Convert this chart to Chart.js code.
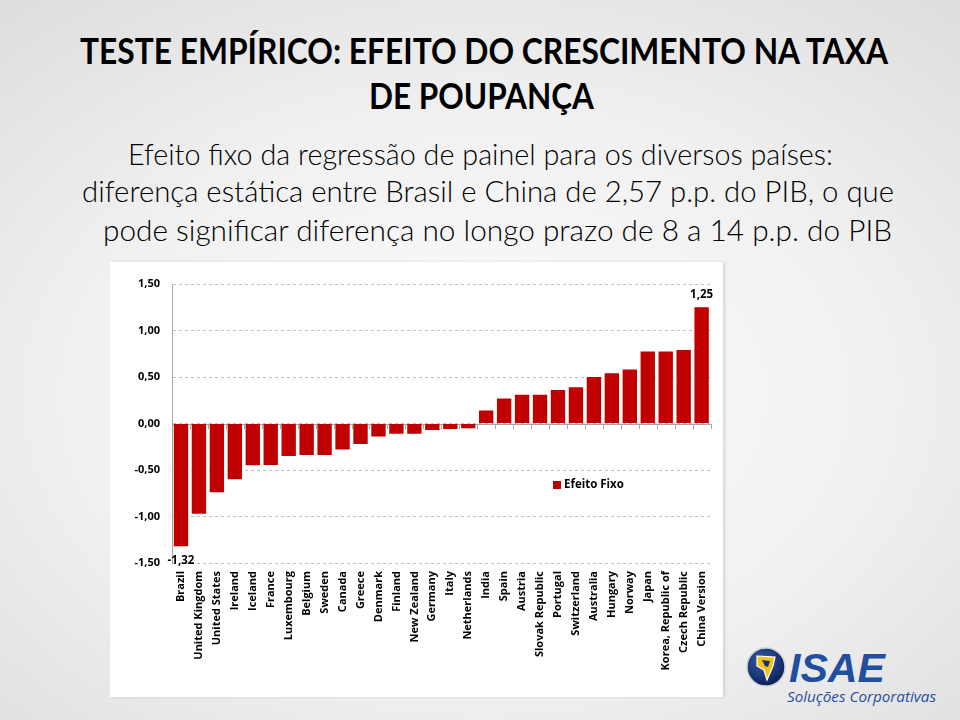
<!DOCTYPE html>
<html>
<head>
<meta charset="utf-8">
<script src="https://cdn.jsdelivr.net/npm/chart.js@4/dist/chart.umd.min.js"></script>
<style>
  html,body{margin:0;padding:0;}
  body{width:960px;height:720px;overflow:hidden;position:relative;
    background:radial-gradient(ellipse 75% 70% at 50% 55%, #fbfbfb 0%, #f1f1f1 55%, #dedede 100%);
    font-family:'Lato','Open Sans',sans-serif;}
  .line{position:absolute;white-space:nowrap;transform-origin:0 0;color:#000;line-height:1;}
  .title{font-weight:700;font-size:36px;}
  .sub{font-weight:300;font-size:29px;}
  #panel{position:absolute;left:110px;top:262px;width:613px;height:435px;background:#fff;
    box-shadow:2px 0 3px rgba(0,0,0,0.12);}
  #logo{position:absolute;left:745px;top:644px;width:210px;height:70px;}
</style>
</head>
<body>
<div class="line title" data-l="80" data-r="888" data-cap="35" data-base="61">TESTE EMPÍRICO: EFEITO DO CRESCIMENTO NA TAXA</div>
<div class="line title" data-l="369" data-r="594" data-cap="82" data-base="106">DE POUPANÇA</div>
<div class="line sub" data-l="128" data-r="833" data-cap="143" data-base="162">Efeito fixo da regressão de painel para os diversos países:</div>
<div class="line sub" data-l="82" data-r="894" data-cap="180" data-base="199">diferença estática entre Brasil e China de 2,57 p.p. do PIB, o que</div>
<div class="line sub" data-l="103" data-r="892" data-cap="219" data-base="238">pode significar diferença no longo prazo de 8 a 14 p.p. do PIB</div>

<div id="panel"><canvas id="c"></canvas></div>

<div id="logo">
  <svg width="210" height="70" viewBox="0 0 210 70">
    <defs>
      <radialGradient id="g1" cx="40%" cy="35%" r="70%">
        <stop offset="0%" stop-color="#3a5fa8"/>
        <stop offset="70%" stop-color="#16306e"/>
        <stop offset="100%" stop-color="#0b1c48"/>
      </radialGradient>
    </defs>
    <circle cx="21" cy="23" r="19" fill="url(#g1)" stroke="#c9ced8" stroke-width="1.5"/>
    <path d="M12 12 L30 13 L28 22 L22 36 L19 26 L12 22 Z" fill="#f2c318" stroke="#fff" stroke-width="1.2"/>
    <path d="M17 16 L25 17 L23 23 L20 22 Z" fill="#16306e"/>
    <text x="44" y="38" font-family="'Liberation Sans','Roboto',sans-serif" font-weight="900" font-style="italic" font-size="40" fill="#1f4f9e" textLength="96" lengthAdjust="spacingAndGlyphs">ISAE</text>
    <text x="42" y="58" font-family="'Open Sans',sans-serif" font-style="italic" font-size="14.5" fill="#1f4f9e" textLength="149" lengthAdjust="spacingAndGlyphs">Soluções Corporativas</text>
  </svg>
</div>

<script>
// ---- data ----
const categories = ["Brazil","United Kingdom","United States","Ireland","Iceland","France","Luxembourg","Belgium","Sweden","Canada","Greece","Denmark","Finland","New Zealand","Germany","Italy","Netherlands","India","Spain","Austria","Slovak Republic","Portugal","Switzerland","Australia","Hungary","Norway","Japan","Korea, Republic of","Czech Republic","China Version"];
const efeitoFixo = [-1.32,-0.97,-0.74,-0.60,-0.45,-0.445,-0.35,-0.34,-0.34,-0.28,-0.22,-0.14,-0.11,-0.11,-0.07,-0.06,-0.05,0.14,0.27,0.31,0.31,0.36,0.39,0.50,0.54,0.58,0.775,0.775,0.79,1.25];
const seriesName = "Efeito Fixo";
const yTicks = [-1.5,-1.0,-0.5,0,0.5,1.0,1.5];
const labeledPoints = ["Brazil","China Version"];

// ---- fit text lines ----
document.querySelectorAll('.line').forEach(el=>{
  const l=+el.dataset.l, r=+el.dataset.r;
  const w=el.getBoundingClientRect().width;
  const sx=(r-l)/w;
  el.style.left=l+'px';
  const base=+el.dataset.base;
  const fs=parseFloat(getComputedStyle(el).fontSize);
  el.style.top=(base - fs*0.80)+'px';
  el.style.transform='scaleX('+sx+')';
});

const fmt = v => v.toFixed(2).replace('.', ',');
const red = '#c00000';

const extras = {
  id:'extras',
  beforeDatasetsDraw(chart){
    const {ctx, chartArea, scales:{x,y}} = chart;
    const y0 = y.getPixelForValue(0);
    ctx.save();
    ctx.strokeStyle='#a6a6a6'; ctx.lineWidth=1;
    ctx.beginPath();
    ctx.moveTo(chartArea.left, Math.round(y0)+0.5);
    ctx.lineTo(chartArea.right, Math.round(y0)+0.5);
    const n = categories.length;
    const step = x.getPixelForValue(1)-x.getPixelForValue(0);
    for(let i=0;i<=n;i++){
      const px = i<n ? (x.getPixelForValue(i) - step/2) : chartArea.right;
      const xx = Math.round(px)+0.5;
      ctx.moveTo(xx, Math.round(y0)); ctx.lineTo(xx, Math.round(y0)+5);
    }
    ctx.stroke();
    ctx.restore();
  },
  afterDatasetsDraw(chart){
    const {ctx, chartArea} = chart;
    const meta = chart.getDatasetMeta(0);
    ctx.save();
    ctx.font = 'bold 11.5px "Open Sans"';
    ctx.fillStyle='#000';
    ctx.textAlign='center';
    labeledPoints.forEach(name=>{
      const i = categories.indexOf(name);
      const el = meta.data[i];
      const v = efeitoFixo[i];
      if(v<0){ ctx.textBaseline='top'; ctx.fillText(fmt(v), el.x, el.y+9); }
      else { ctx.textBaseline='bottom'; ctx.fillText(fmt(v), el.x, el.y-7); }
    });
    const lx = chartArea.left + 381, ly = chartArea.top + 201;
    ctx.fillStyle=red;
    ctx.fillRect(lx, ly-4, 8, 8);
    ctx.fillStyle='#000';
    ctx.textAlign='left'; ctx.textBaseline='middle';
    ctx.font='bold 11.5px "Open Sans"';
    ctx.fillText(seriesName, lx+11, ly);
    ctx.restore();
  }
};

new Chart(document.getElementById('c'), {
  type:'bar',
  data:{
    labels: categories,
    datasets:[{label:seriesName, data:efeitoFixo, backgroundColor:red, borderWidth:0,
      barPercentage:0.8, categoryPercentage:1.0}]
  },
  options:{
    responsive:true, maintainAspectRatio:false, animation:false,
    layout:{padding:{left:0,top:22,right:11,bottom:0}},
    plugins:{legend:{display:false}, tooltip:{enabled:false}},
    scales:{
      x:{
        grid:{display:false, drawTicks:false},
        border:{display:false},
        ticks:{autoSkip:false, minRotation:90, maxRotation:90, padding:8, color:'#000',
          font:{family:'Open Sans', weight:'bold', size:11}},
        afterFit(s){ s.height = 134; }
      },
      y:{
        min:-1.5, max:1.5,
        afterBuildTicks(s){ s.ticks = yTicks.map(v=>({value:v})); },
        grid:{color:'#bfbfbf', lineWidth:1, drawTicks:false},
        border:{display:true, color:'#a6a6a6', width:1, dash:[3,3]},
        ticks:{padding:12, color:'#000', callback:v=>fmt(v),
          font:{family:'Open Sans', weight:'bold', size:11}},
        afterFit(s){ s.width = 62; }
      }
    }
  },
  plugins:[extras]
});
</script>
</body>
</html>
